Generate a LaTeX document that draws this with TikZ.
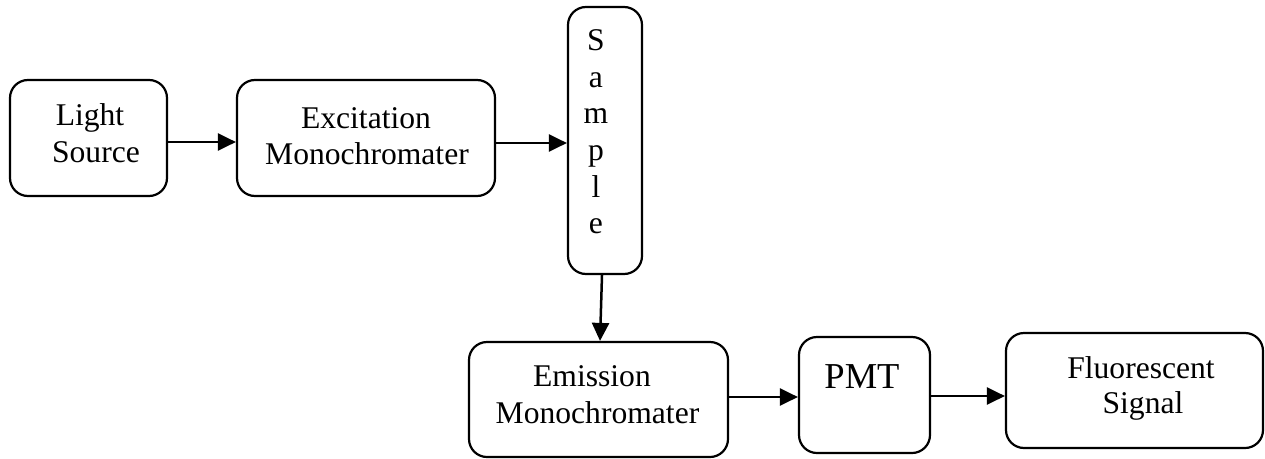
\documentclass[tikz,border=0pt]{standalone}
\usepackage{fontspec}
\setmainfont{Liberation Serif}
\usetikzlibrary{arrows.meta}
\begin{document}
\begin{tikzpicture}[x=1pt,y=-1pt,
  box/.style={draw,line width=2.2pt,rounded corners=18pt,inner sep=0pt},
  txt/.style={anchor=base,inner sep=0pt,font=\fontsize{31.6}{37}\selectfont},
  big/.style={anchor=base,inner sep=0pt,font=\fontsize{36.5}{40}\selectfont},
  arr/.style={line width=2.5pt,-{Triangle[length=18pt,width=17pt]}}]
\useasboundingbox (0,0) rectangle (1265,458);
% boxes
\node[box,minimum width=157pt,minimum height=116pt] (ls) at (88.5,138) {};
\node[box,minimum width=258pt,minimum height=116pt] (exc) at (366,138) {};
\node[box,minimum width=74pt,minimum height=267pt] (smp) at (605,140.5) {};
\node[box,minimum width=259pt,minimum height=115pt] (emis) at (598.5,399.5) {};
\node[box,minimum width=131pt,minimum height=116pt] (pmt) at (864.5,395) {};
\node[box,minimum width=257pt,minimum height=115pt] (fl) at (1134.5,390.5) {};
% texts
\node[txt] (ls1) at (90,125) {Light};
\node[txt] (ls2) at (96,162) {Source};
\node[txt] (exc1) at (366,128) {Excitation};
\node[txt] (exc2) at (367,164) {Monochromater};
\node[txt] (s1) at (596,50) {S};
\node[txt] (s2) at (596,87) {a};
\node[txt] (s3) at (596,123.5) {m};
\node[txt] (s4) at (596,160) {p};
\node[txt] (s5) at (596,197) {l};
\node[txt] (s6) at (596,233) {e};
\node[txt] (em1) at (592,386) {Emission};
\node[txt] (em2) at (597.5,423) {Monochromater};
\node[big] (pmt1) at (862,388) {PMT};
\node[txt] (fl1) at (1141,378) {Fluorescent};
\node[txt] (fl2) at (1143,413) {Signal};
% arrows
\draw[arr] ([yshift=-4pt]ls.east) -- ([yshift=-4pt]exc.west);
\draw[arr] ([yshift=-5pt]exc.east) -- ([yshift=-2.5pt]smp.west);
\draw[arr] ([xshift=-3pt]smp.south) -- ([xshift=1.5pt]emis.north);
\draw[arr] ([yshift=2.5pt]emis.east) -- ([yshift=-2pt]pmt.west);
\draw[arr] ([yshift=-1pt]pmt.east) -- ([yshift=-5.5pt]fl.west);
\end{tikzpicture}
\end{document}
